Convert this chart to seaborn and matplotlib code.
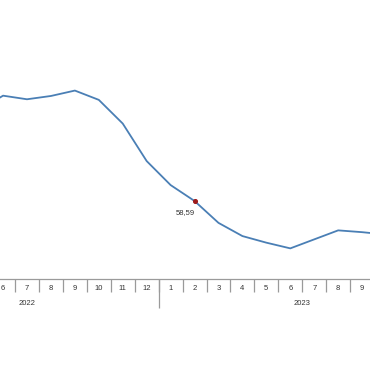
import numpy as np
import matplotlib
matplotlib.use("Agg")
import matplotlib.pyplot as plt
import seaborn as sns
import pandas as pd

# axis months: Feb 2022 .. Dec 2023 (chart is cropped to the middle of it)
years = [2022] * 11 + [2023] * 12
months = list(range(2, 13)) + list(range(1, 13))

# values, May 2022 .. Oct 2023
first_value_month = 3  # index of May 2022 in the month list
values = [88.9, 93.7, 92.5, 93.6, 95.4, 92.3, 84.4, 71.9, 63.9, 58.59,
          51.3, 46.9, 44.7, 42.8, 45.8, 48.8, 48.2, 47.4]
highlight_label = "58,59"
highlight_pos = 9  # Feb 2023 within values

df = pd.DataFrame({
    "idx": np.arange(len(values)) + first_value_month,
    "value": values,
})

sns.set_style("white")
plt.rcParams["font.family"] = ["Liberation Sans", "DejaVu Sans"]

fig = plt.figure(figsize=(3.7, 3.75), dpi=100)
ax = fig.add_axes([0, 0.256, 1, 0.744])

sns.lineplot(data=df, x="idx", y="value", ax=ax, color="#4a7fb5", linewidth=1.3)
hx = df["idx"].iloc[highlight_pos]
hy = df["value"].iloc[highlight_pos]
ax.scatter([hx], [hy], s=7, color="#9e1b1b", zorder=5)
ax.annotate(highlight_label, (hx, hy), xytext=(-7, -8), textcoords="offset points",
            ha="center", va="center", fontsize=5.5, color="#333333")

ax.set_xlabel("")
ax.set_ylabel("")
ax.set_yticks([])

for s in ["top", "left", "right"]:
    ax.spines[s].set_visible(False)
ax.spines["bottom"].set_color("#9a9a9a")
ax.spines["bottom"].set_linewidth(0.9)

n = len(months)
ax.set_xticks(np.arange(n + 1) - 0.5)
ax.set_xticklabels([])
ax.tick_params(axis="x", which="major", bottom=True, length=9, width=0.9,
               color="#9a9a9a", direction="out")
ax.set_xticks(np.arange(n), minor=True)
ax.set_xticklabels([str(m) for m in months], minor=True)
ax.tick_params(axis="x", which="minor", length=0, pad=4, labelsize=5.5, labelcolor="#333333")

# year row
yrs = sorted(set(years))
year_bounds = [years.index(y) - 0.5 for y in yrs[1:]]
year_centers = [np.mean([i for i, yy in enumerate(years) if yy == y]) for y in yrs]
sec = ax.secondary_xaxis("bottom")
sec.spines["bottom"].set_visible(False)
sec.set_xticks(year_bounds)
sec.set_xticklabels([])
sec.tick_params(axis="x", which="major", bottom=True, length=21, width=0.9, color="#9a9a9a")
sec.set_xticks(year_centers, minor=True)
sec.set_xticklabels([str(y) for y in yrs], minor=True)
sec.tick_params(axis="x", which="minor", length=0, pad=15, labelsize=5.5, labelcolor="#333333")

ax.set_xlim(3.872, 19.33)
ax.set_ylim(32.59, 125.59)

fig.savefig("out.png", dpi=100, facecolor="white")
